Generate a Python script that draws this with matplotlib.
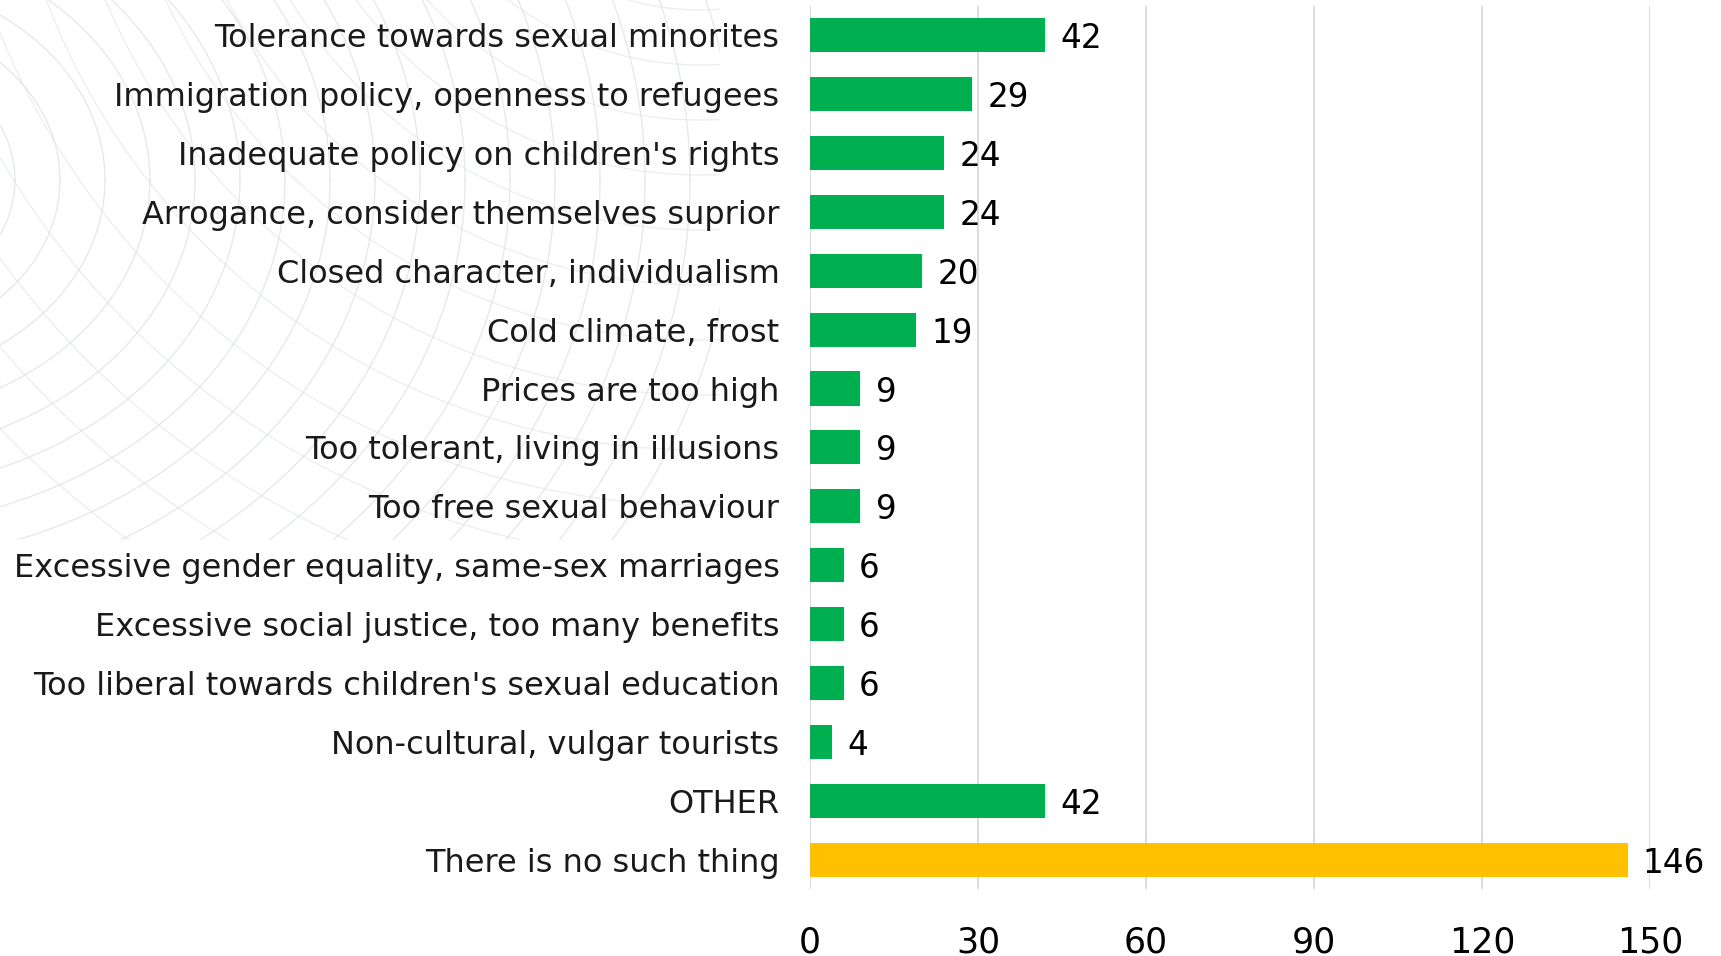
import numpy as np
import matplotlib.pyplot as plt

# ---------- data ----------
categories = [
    "Tolerance towards sexual minorites",
    "Immigration policy, openness to refugees",
    "Inadequate policy on children's rights",
    "Arrogance, consider themselves suprior",
    "Closed character, individualism",
    "Cold climate, frost",
    "Prices are too high",
    "Too tolerant, living in illusions",
    "Too free sexual behaviour",
    "Excessive gender equality, same-sex marriages",
    "Excessive social justice, too many benefits",
    "Too liberal towards children's sexual education",
    "Non-cultural, vulgar tourists",
    "OTHER",
    "There is no such thing",
]
values = [42, 29, 24, 24, 20, 19, 9, 9, 9, 6, 6, 6, 4, 42, 146]
bar_colors = ["#00B050"] * 14 + ["#FFC000"]
xticks = [0, 30, 60, 90, 120, 150]

# ---------- figure ----------
fig = plt.figure(figsize=(17.21, 9.56), dpi=100)

# faint decorative watermark in the top-left corner
bg = fig.add_axes([0, 0, 1, 1], zorder=0)
bg.set_xlim(0, 1721)
bg.set_ylim(956, 0)
bg.axis("off")
t = np.linspace(0, 2 * np.pi, 400)
for r in range(120, 900, 45):
    bg.plot(-150 + r * np.cos(t), 180 + 0.8 * r * np.sin(t), color="#DFE4EA", lw=1.0, alpha=0.8)
for r in range(150, 1000, 55):
    bg.plot(700 + r * np.cos(t), -250 + r * np.sin(t), color="#DFE4EA", lw=1.0, alpha=0.6)
# cover the rest so the pattern stays in the corner
bg.add_patch(plt.Rectangle((720, 0), 1100, 956, color="white", zorder=3))
bg.add_patch(plt.Rectangle((0, 540), 720, 500, color="white", zorder=3))

ax = fig.add_axes([0.4707, 0.07, 0.488, 0.924], zorder=1)
ax.patch.set_alpha(0)

y = np.arange(len(categories))
ax.barh(y, values, height=0.58, color=bar_colors, zorder=2)
for yi, v in zip(y, values):
    ax.text(v + 2.7, yi, str(v), va="center_baseline", ha="left", fontsize=23.5, color="black")

ax.set_xlim(0, 150)
ax.set_ylim(len(categories) - 0.5, -0.5)
ax.set_yticks(y)
ax.set_yticklabels(categories, fontsize=23, color="#1a1a1a")
ax.set_xticks(xticks)
ax.set_xticklabels([str(x) for x in xticks], fontsize=25)
ax.tick_params(axis="y", length=0, pad=22)
ax.tick_params(axis="x", length=0, pad=26)
ax.grid(axis="x", color="#D9D9D9", lw=1.3, zorder=0)
ax.set_axisbelow(True)
for s in ["top", "right", "bottom", "left"]:
    ax.spines[s].set_visible(False)

fig.savefig("out.png", dpi=100)
